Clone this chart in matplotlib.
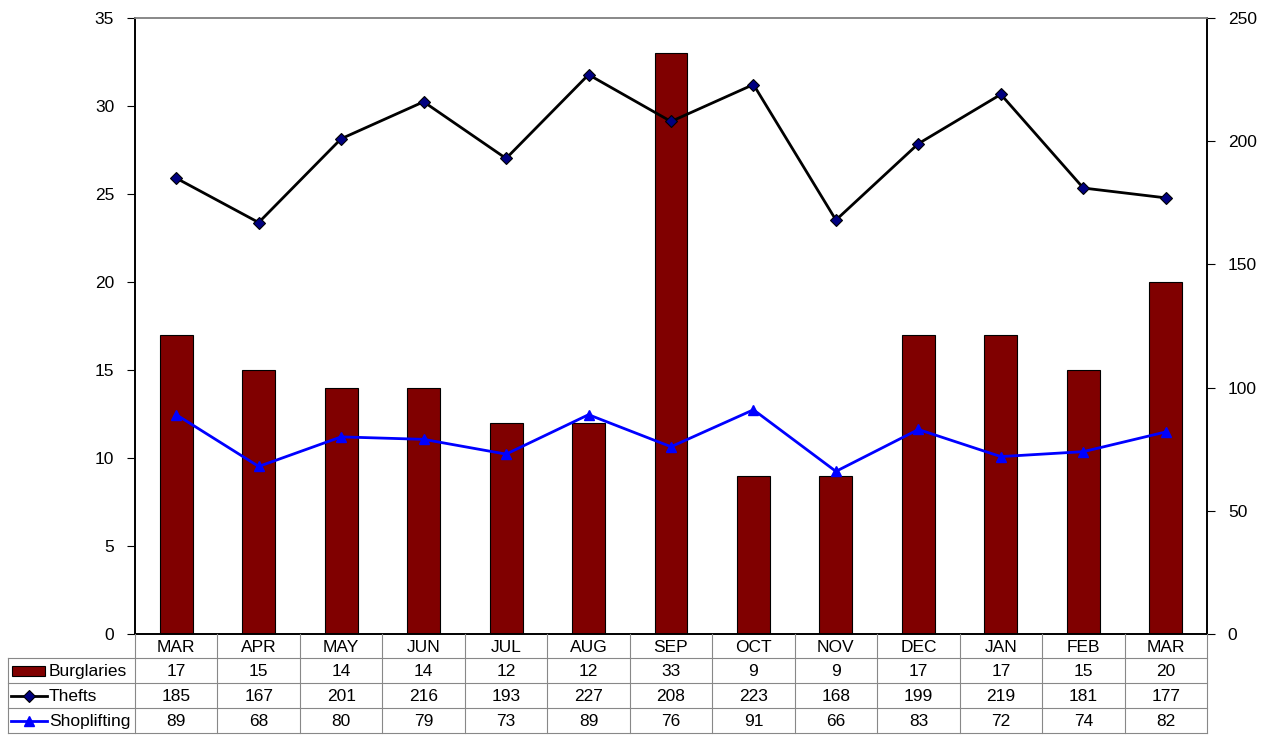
import matplotlib
matplotlib.use("Agg")
import matplotlib.pyplot as plt
from matplotlib.lines import Line2D
from matplotlib.patches import Rectangle

plt.rcParams['font.family'] = ['Liberation Sans', 'DejaVu Sans']

months = ["MAR", "APR", "MAY", "JUN", "JUL", "AUG", "SEP", "OCT", "NOV", "DEC", "JAN", "FEB", "MAR"]
burglaries = [17, 15, 14, 14, 12, 12, 33, 9, 9, 17, 17, 15, 20]
thefts = [185, 167, 201, 216, 193, 227, 208, 223, 168, 199, 219, 181, 177]
shoplifting = [89, 68, 80, 79, 73, 89, 76, 91, 66, 83, 72, 74, 82]
series_names = ["Burglaries", "Thefts", "Shoplifting"]

FS = 12.5
W, H = 1266, 735
fig = plt.figure(figsize=(W / 100, H / 100), dpi=100)

L, R, T, B = 135, 1207, 18, 634
ax = fig.add_axes([L / W, 1 - B / H, (R - L) / W, (B - T) / H])
ax2 = ax.twinx()

x = list(range(len(months)))
ax.bar(x, burglaries, width=0.4, color="#800000", edgecolor="black", linewidth=0.8, zorder=2)
ax.set_xlim(-0.5, len(months) - 0.5)
ax.set_ylim(0, 35)
ax.set_yticks(range(0, 36, 5))
ax.set_xticks([])

ax2.plot(x, thefts, color="black", lw=2, marker="D", markersize=6.5,
         markerfacecolor="#000080", markeredgecolor="black", markeredgewidth=0.8, zorder=3)
ax2.plot(x, shoplifting, color="#0000FF", lw=2, marker="^", markersize=7.5,
         markerfacecolor="#0000FF", markeredgecolor="#0000FF", zorder=3)
ax2.set_ylim(0, 250)
ax2.set_yticks(range(0, 251, 50))

for a in (ax, ax2):
    a.tick_params(axis="y", labelsize=FS, length=6, width=0.8, pad=9)
    for s in a.spines.values():
        s.set_linewidth(1.2)
    a.spines["top"].set_color("#888888")
ax.set_zorder(ax2.get_zorder() - 1)
ax.patch.set_visible(True)
ax2.patch.set_visible(False)

# Data table
def fx(px):
    return px / W

def fy(py):
    return 1 - py / H

gray = "#888888"
colw = (R - L) / len(months)
rows_y = [634, 658, 683, 708, 733]
tleft = 8

for yy in rows_y[1:]:
    fig.add_artist(Line2D([fx(tleft), fx(R)], [fy(yy), fy(yy)], color=gray, lw=0.8))
for i in range(len(months) + 1):
    xx = L + i * colw
    fig.add_artist(Line2D([fx(xx), fx(xx)], [fy(634), fy(733)], color=gray, lw=0.8))
fig.add_artist(Line2D([fx(tleft), fx(tleft)], [fy(658), fy(733)], color=gray, lw=0.8))

for i, m in enumerate(months):
    cx = L + (i + 0.5) * colw
    fig.text(fx(cx), fy(647), m, ha="center", va="center", fontsize=FS)

data_rows = [burglaries, thefts, shoplifting]
for r, vals in enumerate(data_rows):
    cy = (rows_y[r + 1] + rows_y[r + 2]) / 2 + 1
    for i, v in enumerate(vals):
        cx = L + (i + 0.5) * colw
        fig.text(fx(cx), fy(cy), str(v), ha="center", va="center", fontsize=FS)
    fig.text(fx(49), fy(cy), series_names[r], ha="left", va="center", fontsize=FS)

cy0 = (rows_y[1] + rows_y[2]) / 2
fig.add_artist(Rectangle((fx(12), fy(cy0 + 5)), fx(33), 10 / H, facecolor="#800000",
                         edgecolor="black", lw=0.8, transform=fig.transFigure))
cy1 = (rows_y[2] + rows_y[3]) / 2
fig.add_artist(Line2D([fx(11), fx(47)], [fy(cy1), fy(cy1)], color="black", lw=2))
fig.add_artist(Line2D([fx(29)], [fy(cy1)], marker="D", markersize=6.5, markerfacecolor="#000080",
                      markeredgecolor="black", markeredgewidth=0.8, lw=0))
cy2 = (rows_y[3] + rows_y[4]) / 2
fig.add_artist(Line2D([fx(11), fx(47)], [fy(cy2), fy(cy2)], color="#0000FF", lw=2))
fig.add_artist(Line2D([fx(29)], [fy(cy2)], marker="^", markersize=7.5, markerfacecolor="#0000FF",
                      markeredgecolor="#0000FF", lw=0))

fig.savefig("out.png", dpi=100)
